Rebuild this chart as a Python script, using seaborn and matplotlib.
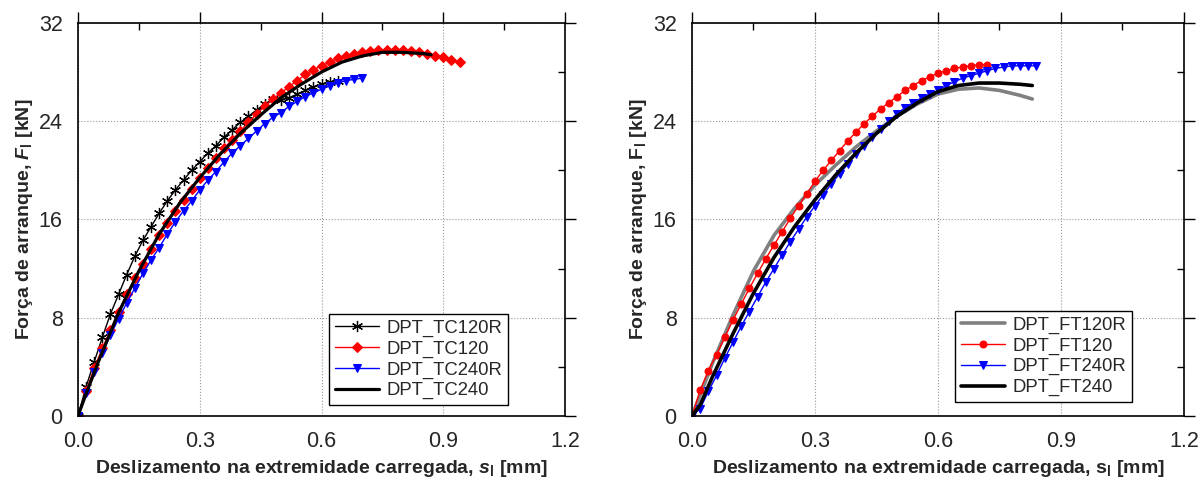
import numpy as np
import pandas as pd
import matplotlib
matplotlib.use("Agg")
import matplotlib.pyplot as plt
from matplotlib.ticker import MultipleLocator, FormatStrFormatter
import seaborn as sns

# ---- left panel (TC series) ----
tc120r_x = [0.00, 0.02, 0.04, 0.06, 0.08, 0.10, 0.12, 0.14, 0.16, 0.18, 0.20, 0.22, 0.24, 0.26, 0.28,
            0.30, 0.32, 0.34, 0.36, 0.38, 0.40, 0.42, 0.44, 0.46, 0.48, 0.50, 0.52, 0.54, 0.56, 0.58,
            0.60, 0.62, 0.64]
tc120r_y = [0.0, 2.4, 4.4, 6.4, 8.3, 9.9, 11.5, 13.0, 14.3, 15.4, 16.5, 17.5, 18.4, 19.2, 20.0,
            20.7, 21.4, 22.0, 22.7, 23.3, 23.9, 24.4, 24.9, 25.4, 25.8, 25.7, 25.9, 26.2, 26.5, 26.8,
            27.0, 27.2, 27.3]

tc120_x = [0.00, 0.02, 0.04, 0.06, 0.08, 0.10, 0.12, 0.14, 0.16, 0.18, 0.20, 0.22, 0.24, 0.26, 0.28,
           0.30, 0.32, 0.34, 0.36, 0.38, 0.40, 0.42, 0.44, 0.46, 0.48, 0.50, 0.52, 0.54, 0.56, 0.58,
           0.60, 0.62, 0.64, 0.66, 0.68, 0.70, 0.72, 0.74, 0.76, 0.78, 0.80, 0.82, 0.84, 0.86, 0.88,
           0.90, 0.92, 0.94]
tc120_y = [0.0, 2.0, 3.9, 5.5, 7.0, 8.5, 9.9, 11.2, 12.4, 13.6, 14.7, 15.7, 16.7, 17.6, 18.5,
           19.4, 20.2, 21.0, 21.8, 22.5, 23.2, 23.9, 24.6, 25.2, 25.8, 26.3, 26.8, 27.3, 27.8, 28.2,
           28.5, 28.8, 29.1, 29.3, 29.5, 29.6, 29.7, 29.8, 29.8, 29.8, 29.8, 29.7, 29.6, 29.5, 29.3,
           29.2, 29.0, 28.8]

tc240r_x = [0.00, 0.02, 0.04, 0.06, 0.08, 0.10, 0.12, 0.14, 0.16, 0.18, 0.20, 0.22, 0.24, 0.26, 0.28,
            0.30, 0.32, 0.34, 0.36, 0.38, 0.40, 0.42, 0.44, 0.46, 0.48, 0.50, 0.52, 0.54, 0.56, 0.58,
            0.60, 0.62, 0.64, 0.66, 0.68, 0.70]
tc240r_y = [0.0, 1.9, 3.6, 5.1, 6.6, 7.9, 9.2, 10.4, 11.6, 12.7, 13.7, 14.8, 15.8, 16.7, 17.5,
            18.4, 19.2, 19.9, 20.7, 21.4, 22.0, 22.6, 23.2, 23.8, 24.3, 24.7, 25.2, 25.6, 26.0, 26.3,
            26.6, 26.9, 27.1, 27.3, 27.4, 27.5]

tc240_x = [0.00, 0.02, 0.05, 0.10, 0.15, 0.20, 0.25, 0.30, 0.35, 0.40, 0.45, 0.50, 0.55, 0.60,
           0.65, 0.70, 0.75, 0.80, 0.85, 0.87]
tc240_y = [0.0, 1.8, 4.4, 8.4, 11.8, 14.8, 17.3, 19.4, 21.3, 23.0, 24.5, 25.9, 27.0, 28.0,
           28.8, 29.3, 29.6, 29.6, 29.5, 29.4]

# ---- right panel (FT series) ----
ft120r_x = [0.00, 0.05, 0.10, 0.15, 0.20, 0.25, 0.30, 0.35, 0.40, 0.45, 0.50, 0.55, 0.60, 0.65,
            0.70, 0.75, 0.80, 0.83]
ft120r_y = [0.0, 4.3, 8.2, 11.8, 14.7, 16.9, 18.8, 20.4, 21.9, 23.2, 24.4, 25.4, 26.2, 26.6,
            26.7, 26.5, 26.1, 25.8]

ft120_x = [0.00, 0.02, 0.04, 0.06, 0.08, 0.10, 0.12, 0.14, 0.16, 0.18, 0.20, 0.22, 0.24, 0.26, 0.28,
           0.30, 0.32, 0.34, 0.36, 0.38, 0.40, 0.42, 0.44, 0.46, 0.48, 0.50, 0.52, 0.54, 0.56, 0.58,
           0.60, 0.62, 0.64, 0.66, 0.68, 0.70, 0.72]
ft120_y = [0.0, 2.1, 3.7, 5.0, 6.4, 7.8, 9.1, 10.4, 11.6, 12.8, 13.9, 15.0, 16.1, 17.1, 18.1,
           19.1, 20.0, 20.8, 21.6, 22.4, 23.1, 23.8, 24.4, 25.0, 25.5, 26.0, 26.5, 26.9, 27.3, 27.6,
           27.9, 28.1, 28.3, 28.4, 28.5, 28.6, 28.6]

ft240r_x = [0.00, 0.02, 0.04, 0.06, 0.08, 0.10, 0.12, 0.14, 0.16, 0.18, 0.20, 0.22, 0.24, 0.26, 0.28,
            0.30, 0.32, 0.34, 0.36, 0.38, 0.40, 0.42, 0.44, 0.46, 0.48, 0.50, 0.52, 0.54, 0.56, 0.58,
            0.60, 0.62, 0.64, 0.66, 0.68, 0.70, 0.72, 0.74, 0.76, 0.78, 0.80, 0.82, 0.84]
ft240r_y = [0.0, 0.6, 2.0, 3.3, 4.7, 6.0, 7.3, 8.5, 9.7, 10.9, 12.0, 13.1, 14.2, 15.2, 16.2,
            17.1, 18.0, 18.9, 19.7, 20.5, 21.3, 22.0, 22.7, 23.4, 24.0, 24.6, 25.1, 25.5, 25.9, 26.2,
            26.5, 26.9, 27.2, 27.5, 27.7, 27.9, 28.1, 28.3, 28.4, 28.5, 28.5, 28.5, 28.5]

ft240_x = [0.00, 0.02, 0.05, 0.10, 0.15, 0.20, 0.25, 0.30, 0.35, 0.40, 0.45, 0.50, 0.55, 0.60,
           0.65, 0.70, 0.75, 0.80, 0.83]
ft240_y = [0.0, 0.9, 3.2, 6.7, 10.0, 12.9, 15.4, 17.6, 19.6, 21.4, 23.0, 24.4, 25.5, 26.4,
           26.9, 27.1, 27.1, 27.0, 26.9]

x_ticks = [0.0, 0.3, 0.6, 0.9, 1.2]
y_ticks = [0, 8, 16, 24, 32]

sns.set_style("white")
plt.rcParams["font.family"] = ["Liberation Sans", "DejaVu Sans"]
plt.rcParams["mathtext.fontset"] = "custom"
plt.rcParams["mathtext.rm"] = "Liberation Sans:bold"
plt.rcParams["mathtext.it"] = "Liberation Sans:italic:bold"

fig = plt.figure(figsize=(12.03, 4.86), dpi=100)
ax1 = fig.add_axes([0.0648, 0.144, 0.405, 0.809])
ax2 = fig.add_axes([0.5752, 0.144, 0.409, 0.809])


def style_axes(ax, ylab, xlab, legend_anchor):
    ax.set_xlim(0, 1.2)
    ax.set_ylim(0, 32)
    ax.set_xticks(x_ticks)
    ax.set_yticks(y_ticks)
    ax.xaxis.set_minor_locator(MultipleLocator(0.15))
    ax.yaxis.set_minor_locator(MultipleLocator(4))
    ax.xaxis.set_major_formatter(FormatStrFormatter("%.1f"))
    ax.tick_params(which="both", top=True, right=True, labelsize=15.5,
                   color="black", width=1)
    ax.tick_params(which="major", direction="out", length=8, pad=3)
    ax.tick_params(which="minor", direction="in", length=5)
    ax.grid(True, which="major", linestyle=":", color="#999999", linewidth=0.8)
    for s in ax.spines.values():
        s.set_color("black")
        s.set_linewidth(1.2)
    ax.set_xlabel(xlab, fontsize=14, fontweight="bold", labelpad=4)
    ax.set_ylabel(ylab, fontsize=14, fontweight="bold", labelpad=3)
    leg = ax.legend(loc="lower right", bbox_to_anchor=legend_anchor, fontsize=13.3,
                    frameon=True, fancybox=False, edgecolor="black", framealpha=1,
                    handlelength=2.4, labelspacing=0.2, borderpad=0.3, handletextpad=0.4,
                    borderaxespad=0)
    leg.get_frame().set_linewidth(1.0)


# left panel
sns.lineplot(x=tc120r_x, y=tc120r_y, ax=ax1, color="black", linewidth=1, marker=(6, 2, 0),
             markersize=8, markeredgewidth=0.9, markeredgecolor="black", label="DPT_TC120R")
sns.lineplot(x=tc120_x, y=tc120_y, ax=ax1, color="red", linewidth=1, marker="D",
             markersize=5, markeredgecolor="red", label="DPT_TC120")
sns.lineplot(x=tc240r_x, y=tc240r_y, ax=ax1, color="blue", linewidth=1, marker="v",
             markersize=6, markeredgecolor="blue", label="DPT_TC240R")
sns.lineplot(x=tc240_x, y=tc240_y, ax=ax1, color="black", linewidth=2.3, label="DPT_TC240")
style_axes(ax1, "Força de arranque, $F_\\mathrm{l}$ [kN]",
           "Deslizamento na extremidade carregada, $s_\\mathrm{l}$ [mm]", (0.883, 0.028))

# right panel
sns.lineplot(x=ft120r_x, y=ft120r_y, ax=ax2, color="#808080", linewidth=2.6, label="DPT_FT120R")
sns.lineplot(x=ft120_x, y=ft120_y, ax=ax2, color="red", linewidth=1, marker="o",
             markersize=5, markeredgecolor="red", label="DPT_FT120")
sns.lineplot(x=ft240r_x, y=ft240r_y, ax=ax2, color="blue", linewidth=1, marker="v",
             markersize=6, markeredgecolor="blue", label="DPT_FT240R")
sns.lineplot(x=ft240_x, y=ft240_y, ax=ax2, color="black", linewidth=2.6, label="DPT_FT240")
style_axes(ax2, "Força de arranque, $\\mathrm{F}_\\mathrm{l}$ [kN]",
           "Deslizamento na extremidade carregada, $\\mathrm{s}_\\mathrm{l}$ [mm]", (0.894, 0.036))

fig.savefig("out.png", dpi=100)
